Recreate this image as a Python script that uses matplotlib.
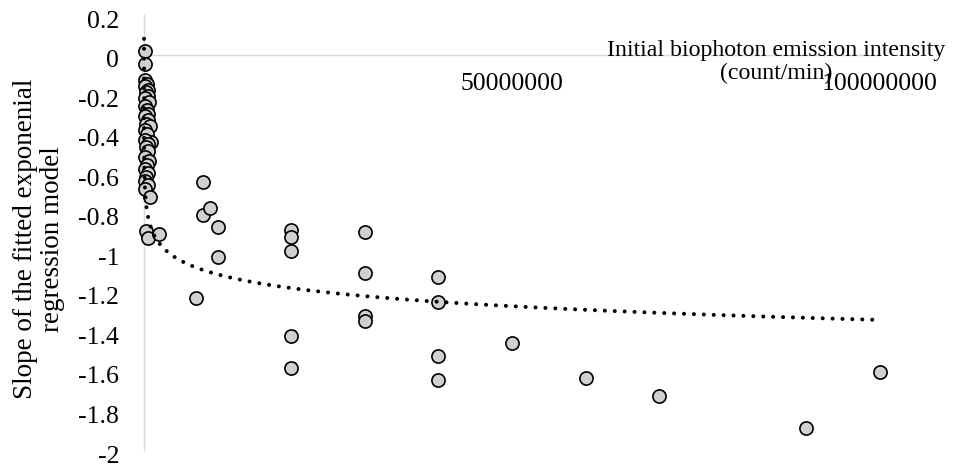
import numpy as np
import matplotlib.pyplot as plt
import matplotlib.transforms as mtransforms

plt.rcParams['font.family'] = ['Liberation Serif', 'DejaVu Serif']
plt.rcParams['axes.unicode_minus'] = False

# values (x in count/min)
cluster_x = [1.0e5, 1.0e5, 2.0e5, 4.0e5, 1.5e5, 6.0e5, 3.0e5, 5.0e5, 2.0e5, 7.0e5,
             1.0e5, 4.0e5, 6.0e5, 2.0e5, 5.0e5, 3.0e5, 8.0e5, 1.0e5, 4.0e5, 9.0e5,
             2.0e5, 6.0e5, 3.0e5, 5.0e5, 1.0e5, 7.0e5, 4.0e5, 2.0e5, 6.0e5, 3.0e5,
             1.0e5, 5.0e5, 2.0e5, 8.0e5, 3.0e5, 5.0e5, 2.0e6]
cluster_y = [0.02, -0.05, -0.13, -0.15, -0.16, -0.18, -0.19, -0.21, -0.22, -0.24,
             -0.26, -0.28, -0.30, -0.31, -0.33, -0.35, -0.36, -0.38, -0.40, -0.44,
             -0.43, -0.45, -0.47, -0.49, -0.52, -0.54, -0.56, -0.58, -0.60, -0.62,
             -0.64, -0.66, -0.68, -0.72, -0.89, -0.93, -0.91]

wide_x = [8e6, 8e6, 9e6, 10e6, 10e6, 7e6,
          20e6, 20e6, 20e6, 20e6, 20e6,
          30e6, 30e6, 30e6, 30e6,
          40e6, 40e6, 40e6, 40e6,
          50e6, 60e6, 70e6, 90e6, 100e6]
wide_y = [-0.645, -0.811, -0.777, -0.871, -1.023, -1.231,
          -0.888, -0.925, -0.996, -1.422, -1.587,
          -0.896, -1.107, -1.321, -1.349,
          -1.125, -1.252, -1.523, -1.645,
          -1.459, -1.635, -1.725, -1.888, -1.605]

# logarithmic trendline y = a*ln(x) + b, as shown on the chart
trend_a = -0.1
trend_b = 0.50
trend_start = 67
trend_end = 1e8

y_ticks = [0.2, 0, -0.2, -0.4, -0.6, -0.8, -1, -1.2, -1.4, -1.6, -1.8, -2]
y_tick_labels = ['0.2', '0', '-0.2', '-0.4', '-0.6', '-0.8', '-1',
                 '-1.2', '-1.4', '-1.6', '-1.8', '-2']
x_ticks = [50000000, 100000000]
x_tick_labels = ['50000000', '100000000']

FS = 18.5
AXIS_GREY = '#d9d9d9'

fig = plt.figure(figsize=(9.55, 4.66), dpi=100)
ax = fig.add_axes([0.1508, 0.0343, 0.7707, 0.9335])

xs = np.array(cluster_x + wide_x)
ys = np.array(cluster_y + wide_y)
ax.scatter(xs, ys, s=90, facecolor='#d0d0d0', edgecolor='black',
           linewidth=1.2, zorder=3, clip_on=False)

tx = np.logspace(np.log10(trend_start), np.log10(trend_end), 600)
ax.plot(tx, trend_a * np.log(tx) + trend_b, color='black', lw=2.9,
        linestyle=(0, (0.01, 2.45)), dash_capstyle='round', zorder=4,
        clip_on=False)

ax.set_xlim(0, 1e8)
ax.set_ylim(-2, 0.2)

for side in ['top', 'right']:
    ax.spines[side].set_visible(False)
ax.spines['bottom'].set_position(('data', 0))
ax.spines['bottom'].set_color(AXIS_GREY)
ax.spines['left'].set_color(AXIS_GREY)
ax.spines['bottom'].set_linewidth(1.0)
ax.spines['left'].set_linewidth(1.0)

ax.set_yticks(y_ticks)
ax.set_yticklabels(y_tick_labels, fontsize=FS)
ax.set_xticks(x_ticks)
ax.set_xticklabels(x_tick_labels, fontsize=FS)
ax.tick_params(axis='both', length=0)
ax.tick_params(axis='y', pad=18)
ax.tick_params(axis='x', pad=13)

# Excel puts the value labels a touch below the gridline level
shift = mtransforms.ScaledTranslation(0, -4 / 100, fig.dpi_scale_trans)
for lbl in ax.get_yticklabels():
    lbl.set_transform(lbl.get_transform() + shift)

fig.text(776 / 955, 1 - 62 / 466,
         'Initial biophoton emission intensity\n(count/min)',
         ha='center', va='center', fontsize=17.2, linespacing=1.12)
fig.text(39 / 955, 1 - 239 / 466,
         'Slope of the fitted exponenial\nregression model',
         ha='center', va='center', rotation=90, fontsize=19.5,
         linespacing=1.12)

fig.savefig('out.png', dpi=100)
